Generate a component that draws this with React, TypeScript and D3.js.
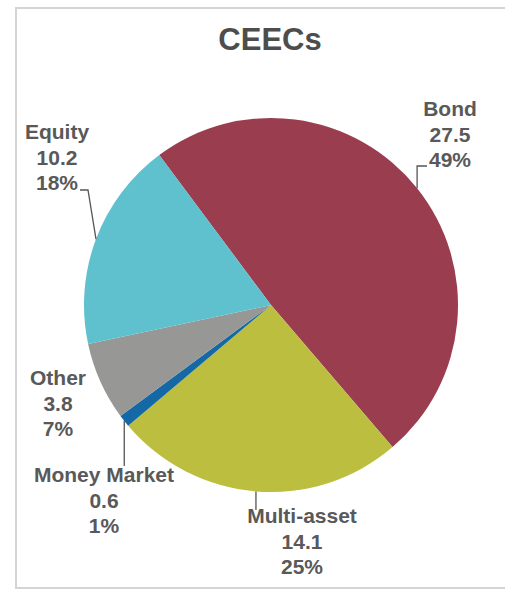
import React from 'react';
import * as d3 from 'd3';

// fund categories and assets (EUR bn)
const categories = ['Bond', 'Multi-asset', 'Money Market', 'Other', 'Equity'];
const values = [27.5, 14.1, 0.6, 3.8, 10.2];
const colors = ['#9a3d4f', '#bcbe40', '#1568a6', '#979896', '#5fc0ce'];
const title = 'CEECs';

// label placement: text centre x, first baseline, and leader bend point(s)
const labelLayout: {[k: string]: {x: number, y: number, leader: Array<[number, number]> | null, fromEdge: 'v' | 'free'}} = {
    'Bond': {x: 450, y: 116, leader: [[427, 166]], fromEdge: 'v'},
    'Multi-asset': {x: 302, y: 523, leader: [[0, 510]], fromEdge: 'v'},
    'Money Market': {x: 104, y: 482, leader: [[0, 466]], fromEdge: 'v'},
    'Other': {x: 58, y: 385, leader: null, fromEdge: 'free'},
    'Equity': {x: 57, y: 139, leader: [[88, 190], [80, 190]], fromEdge: 'free'},
};

function App() {
    const width = 505;
    const height = 590;
    const cx = 271;
    const cy = 305;
    const radius = 187;
    const lineH = 25.5;
    const total = d3.sum(values);

    const startAngle = -36.7 * Math.PI / 180;
    const pie = d3.pie<number>()
        .sort(null)
        .startAngle(startAngle)
        .endAngle(startAngle + 2 * Math.PI);
    const arcs = pie(values);
    const arc = d3.arc<d3.PieArcDatum<number>>()
        .innerRadius(0)
        .outerRadius(radius);

    // frame: top, left and bottom edges only (right side is cut off)
    const frame = d3.line()([[width, 8], [16, 8], [16, 588], [width, 588]]) || '';

    return (
        <svg width={width} height={height}
             style={{position: 'absolute', left: 0, top: 0, background: '#fff'}}
             fontFamily="'Liberation Sans', Arial, sans-serif">
            <path d={frame} fill="none" stroke="#d4d4d4" strokeWidth={2}/>
            <text x={270} y={50} textAnchor="middle" fontSize={31} fontWeight="bold" fill="#4d4d4d">{title}</text>
            <g transform={`translate(${cx},${cy})`}>
                {arcs.map((a, i) => (
                    <path key={categories[i]} d={arc(a) || ''} fill={colors[i]}/>
                ))}
            </g>
            {arcs.map((a, i) => {
                const name = categories[i];
                const lay = labelLayout[name];
                const mid = (a.startAngle + a.endAngle) / 2;
                const ex = cx + radius * Math.sin(mid);
                const ey = cy - radius * Math.cos(mid);
                let leaderPath = '';
                if (lay.leader) {
                    const pts: Array<[number, number]> = [[ex, ey]];
                    lay.leader.forEach((p, j) => {
                        if (lay.fromEdge === 'v' && j === 0) {
                            pts.push([ex, p[1]]);
                            if (p[0] !== 0) pts.push(p);
                        } else {
                            pts.push(p);
                        }
                    });
                    leaderPath = d3.line()(pts) || '';
                }
                const pct = Math.round(values[i] / total * 100) + '%';
                return (
                    <g key={'lab-' + name}>
                        {leaderPath && <path d={leaderPath} fill="none" stroke="#555" strokeWidth={1.3}/>}
                        <text textAnchor="middle" fontSize={21} fontWeight="bold" fill="#595959">
                            <tspan x={lay.x} y={lay.y}>{name}</tspan>
                            <tspan x={lay.x} y={lay.y + lineH}>{values[i].toFixed(1)}</tspan>
                            <tspan x={lay.x} y={lay.y + 2 * lineH}>{pct}</tspan>
                        </text>
                    </g>
                );
            })}
        </svg>
    );
}

export default App;
